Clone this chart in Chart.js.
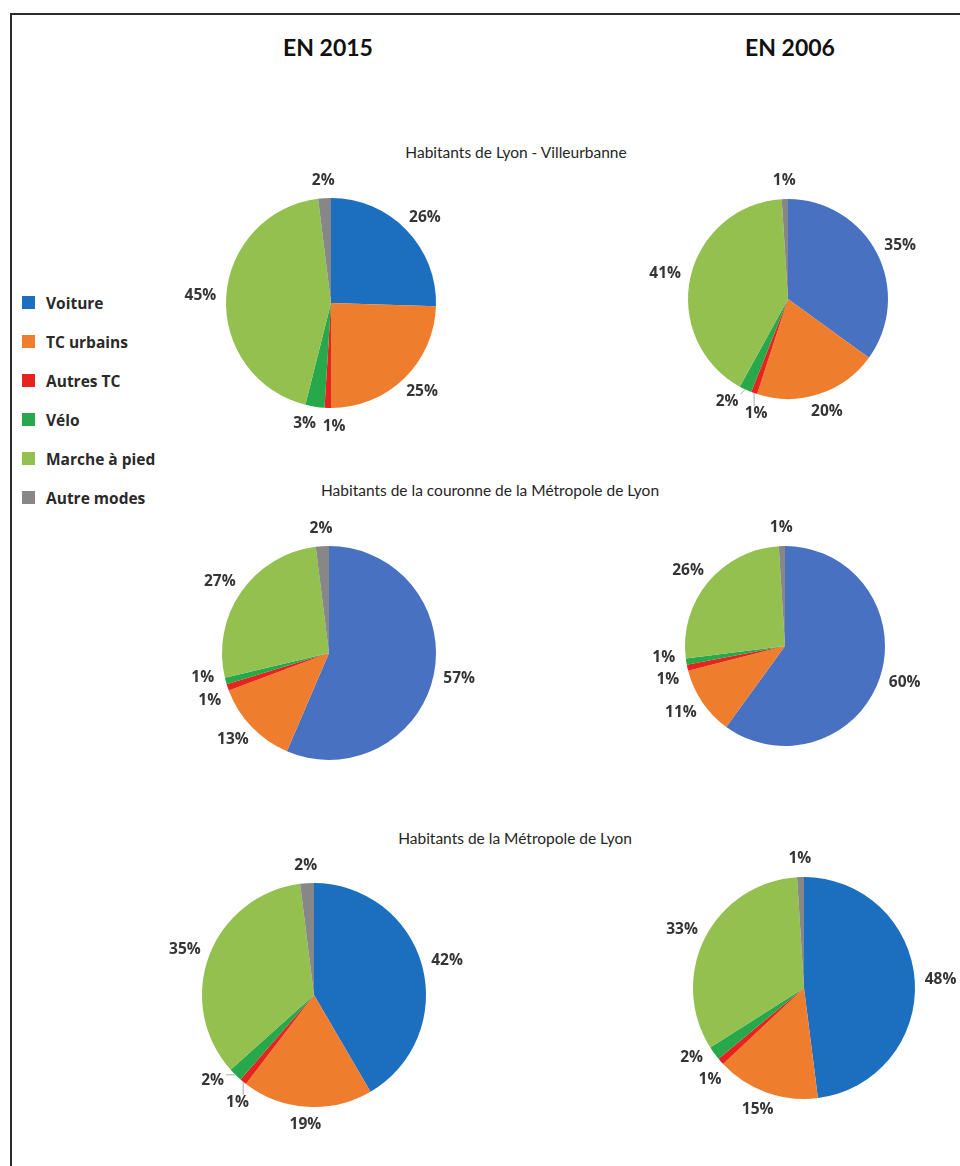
<!DOCTYPE html>
<html lang="fr">
<head>
<meta charset="utf-8">
<title>Parts modales - Lyon</title>
<script src="https://cdn.jsdelivr.net/npm/chart.js@4.4.1/dist/chart.umd.min.js"></script>
<style>
  body { margin: 0; background: #fff; font-family: Lato, "Open Sans", sans-serif; }
  #page { position: relative; width: 960px; height: 1166px; overflow: hidden; }
  #cadre { position: absolute; left: 10px; top: 13px; right: -5px; bottom: -5px;
           border-left: 2px solid #2b2b2b; border-top: 2px solid #2b2b2b; }
  .annee { position: absolute; top: 34px; font-weight: bold; font-size: 23px; line-height: 26px;
           color: #111; transform: translateX(-50%); white-space: nowrap; }
  .zone { position: absolute; font-size: 15.5px; line-height: 20px; color: #262626;
          transform: translateX(-50%); white-space: nowrap; }
  canvas { position: absolute; }
  #legende { position: absolute; left: 22px; top: 283px; }
  .item { height: 39px; display: flex; align-items: center; font-family: "Open Sans", sans-serif;
          font-weight: bold; font-size: 15.5px; color: #2a2a2a; }
  .carre { width: 13px; height: 13px; margin-right: 11px; }
</style>
</head>
<body>
<div id="page">
  <div id="cadre"></div>
  <div class="annee" style="left:328px">EN 2015</div>
  <div class="annee" style="left:790px">EN 2006</div>
  <div class="zone" style="left:516px;top:142px">Habitants de Lyon - Villeurbanne</div>
  <div class="zone" style="left:490px;top:480px">Habitants de la couronne de la Métropole de Lyon</div>
  <div class="zone" style="left:515px;top:828px">Habitants de la Métropole de Lyon</div>
  <div id="legende"></div>
  <canvas id="lv2015"></canvas>
  <canvas id="lv2006"></canvas>
  <canvas id="cour2015"></canvas>
  <canvas id="cour2006"></canvas>
  <canvas id="metro2015"></canvas>
  <canvas id="metro2006"></canvas>
</div>
<script>
// modes de déplacement (ordre des parts, sens horaire depuis midi)
const modes = ['Voiture', 'TC urbains', 'Autres TC', 'Vélo', 'Marche à pied', 'Autre modes'];

const lyonVilleurbanne2015 = [26, 25, 1, 3, 45, 2];
const lyonVilleurbanne2006 = [35, 20, 1, 2, 41, 1];
const couronne2015 = [57, 13, 1, 1, 27, 2];
const couronne2006 = [60, 11, 1, 1, 26, 1];
const metropole2015 = [42, 19, 1, 2, 35, 2];
const metropole2006 = [48, 15, 1, 2, 33, 1];

// couleurs
const bleuFonce = '#1c6fbe';
const bleuClair = '#4872c1';
const autresCouleurs = ['#ef7d2e', '#e6231d', '#27a84a', '#93c04f', '#878787'];
const couleursLegende = [bleuFonce].concat(autresCouleurs);

// légende (construite depuis les tableaux)
const legende = document.getElementById('legende');
modes.forEach((m, i) => {
    const item = document.createElement('div');
    item.className = 'item';
    item.innerHTML = '<span class="carre" style="background:' + couleursLegende[i] + '"></span>' + m;
    legende.appendChild(item);
});

// étiquettes à l'extérieur des parts ; les étiquettes qui se chevauchent
// glissent le long du cercle, avec un trait de rappel si elles s'éloignent
const etiquettesExterieures = {
    id: 'etiquettesExterieures',
    afterDatasetsDraw(chart) {
        const ctx = chart.ctx;
        const meta = chart.getDatasetMeta(0);
        const valeurs = chart.data.datasets[0].data;
        ctx.save();
        ctx.font = 'bold 15.5px "Open Sans", sans-serif';
        const ecart = 10;
        const haut = 16;
        const boites = meta.data.map((arc, i) => {
            const p = arc.getProps(['x', 'y', 'startAngle', 'endAngle', 'outerRadius'], true);
            const mid = (p.startAngle + p.endAngle) / 2;
            const ux = Math.cos(mid), uy = Math.sin(mid);
            const texte = valeurs[i] + '%';
            const w = ctx.measureText(texte).width;
            const cx = p.x + ux * (p.outerRadius + ecart) + ux * w / 2;
            const cy = p.y + uy * (p.outerRadius + ecart) + uy * haut / 2;
            return { texte, w, mid, cx, cy, x0: cx, y0: cy,
                     bx: p.x + ux * p.outerRadius, by: p.y + uy * p.outerRadius };
        });
        const chevauche = (a, b) =>
            Math.abs(b.cx - a.cx) < (a.w + b.w) / 2 + 6 && Math.abs(b.cy - a.cy) < 22;
        for (let n = 0; n < 300; n++) {
            let bouge = false;
            for (let i = 0; i < boites.length; i++) {
                for (let j = i + 1; j < boites.length; j++) {
                    const a = boites[i], b = boites[j];
                    if (!chevauche(a, b)) continue;
                    const m = (a.mid + b.mid) / 2;
                    const tx = -Math.sin(m), ty = Math.cos(m);
                    a.cx -= tx * 0.5; a.cy -= ty * 0.5;
                    b.cx += tx * 0.5; b.cy += ty * 0.5;
                    bouge = true;
                }
            }
            if (!bouge) break;
        }
        boites.forEach(b => {
            if (Math.hypot(b.cx - b.x0, b.cy - b.y0) > 9) {
                const ex = Math.max(b.cx - b.w / 2 - 2, Math.min(b.bx, b.cx + b.w / 2 + 2));
                const ey = Math.max(b.cy - 8, Math.min(b.by, b.cy + 8));
                ctx.strokeStyle = '#a9a9a9';
                ctx.lineWidth = 1;
                ctx.beginPath();
                ctx.moveTo(b.bx, b.by);
                ctx.lineTo(ex, ey);
                ctx.stroke();
            }
        });
        ctx.fillStyle = '#353535';
        ctx.textAlign = 'center';
        ctx.textBaseline = 'middle';
        boites.forEach(b => ctx.fillText(b.texte, b.cx, b.cy));
        ctx.restore();
    }
};

function camembert(id, valeurs, bleu, cx, cy, rayon) {
    const cote = 2 * rayon + 120;
    const canvas = document.getElementById(id);
    canvas.width = cote;
    canvas.height = cote;
    canvas.style.left = (cx - cote / 2) + 'px';
    canvas.style.top = (cy - cote / 2) + 'px';
    return new Chart(canvas.getContext('2d'), {
        type: 'pie',
        data: {
            labels: modes,
            datasets: [{
                data: valeurs,
                backgroundColor: [bleu].concat(autresCouleurs),
                borderWidth: 0
            }]
        },
        options: {
            responsive: false,
            animation: false,
            layout: { padding: (cote - 2 * rayon) / 2 },
            plugins: {
                legend: { display: false },
                tooltip: { enabled: false }
            }
        },
        plugins: [etiquettesExterieures]
    });
}

camembert('lv2015', lyonVilleurbanne2015, bleuFonce, 331, 303, 105);
camembert('lv2006', lyonVilleurbanne2006, bleuClair, 788, 299, 100);
camembert('cour2015', couronne2015, bleuClair, 329, 653, 107);
camembert('cour2006', couronne2006, bleuClair, 785, 646, 100);
camembert('metro2015', metropole2015, bleuFonce, 314, 995, 112);
camembert('metro2006', metropole2006, bleuFonce, 804, 988, 111);
</script>
</body>
</html>
